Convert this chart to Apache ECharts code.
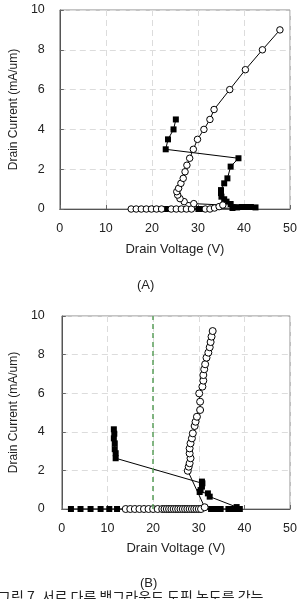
<!DOCTYPE html>
<html>
<head>
<meta charset="utf-8">
<script src="https://cdn.jsdelivr.net/npm/echarts@6/dist/echarts.min.js"></script>
<style>
  html, body { margin: 0; padding: 0; background: #fff; }
  #chart { width: 300px; height: 599px; }
</style>
</head>
<body>
<div id="chart"></div>
<script>
// chart (A)
var aCircleV = [15.5, 16.6, 17.7, 18.8, 19.9, 21.0, 22.1, 24.2, 25.3, 26.4, 27.5, 28.6, 31.6, 32.6, 33.6, 34.6, 35.4,
  29.1, 27.0, 26.1, 25.6, 25.4, 25.8, 26.3, 26.8, 27.2, 27.6, 28.2, 29.0, 29.9, 31.3, 32.6, 33.5, 36.9, 40.3, 44.0, 47.8];
var aCircleI = [0, 0, 0, 0, 0, 0, 0, 0, 0, 0, 0, 0, 0, 0, 0.05, 0.12, 0.2,
  0.27, 0.37, 0.52, 0.7, 0.87, 1.04, 1.29, 1.54, 1.87, 2.2, 2.55, 3.0, 3.5, 4.0, 4.5, 5.0, 6.0, 7.0, 8.0, 9.0];
var aSquareV = [22.9, 23.4, 30.1, 30.8, 37.5, 38.5, 39.5, 40.5, 41.5, 42.5,
  37.1, 36.2, 35.7, 35.1, 35.0, 35.0, 35.7, 36.4, 37.1, 38.8,
  23.0, 23.5, 24.7, 25.2];
var aSquareI = [0, 0, 0, 0, 0.05, 0.08, 0.1, 0.1, 0.1, 0.08,
  0.25, 0.37, 0.49, 0.62, 0.8, 0.95, 1.29, 1.54, 2.13, 2.55,
  3.0, 3.5, 4.0, 4.5];

// chart (B)
var bCircleV = [14, 15, 16, 17, 18, 19, 20, 21, 22, 22.5, 23, 23.5, 24, 24.5, 25, 25.5, 26, 26.5, 27, 27.5, 28, 28.5, 29, 29.5, 30, 30.5, 31.3,
  27.6, 27.8, 28.0, 28.2, 28.0, 28.0, 28.2, 28.5, 28.7, 29.1, 29.3, 29.6, 30.3, 30.3, 30.1, 30.8, 31.0, 31.0, 31.2, 31.4, 31.7, 32.1, 32.4, 32.6, 32.8, 33.05];
var bCircleI = [0, 0, 0, 0, 0, 0, 0, 0, 0, 0, 0, 0, 0, 0, 0, 0, 0, 0, 0, 0, 0, 0, 0, 0, 0, 0, 0.09,
  1.98, 2.19, 2.37, 2.63, 2.88, 3.14, 3.4, 3.66, 3.92, 4.3, 4.52, 4.78, 5.13, 5.56, 5.99, 6.34, 6.65, 6.94, 7.24, 7.5, 7.84, 8.1, 8.38, 8.65, 8.93, 9.22];
var bSquareV = [2.0, 4.1, 6.3, 8.5, 10.4, 12.1, 32.7, 33.8, 34.8, 36.5, 37.3, 38.2, 39.0, 38.3,
  32.4, 32.0, 30.2, 30.4, 30.7, 30.8, 30.7,
  11.8, 11.8, 11.6, 11.6, 11.4, 11.5, 11.4];
var bSquareI = [0, 0, 0, 0, 0, 0, 0, 0, 0, 0, 0, 0, 0, 0.1,
  0.64, 0.81, 0.88, 0.98, 1.16, 1.33, 1.42,
  2.63, 2.89, 3.1, 3.4, 3.66, 3.9, 4.13];
var bGuideV = 20;

var xTicks = { min: 0, max: 50, interval: 10 };
var yTicks = { min: 0, max: 10, interval: 2 };

function zip(xs, ys) {
  return xs.map(function (x, i) { return [x, ys[i]]; });
}

var font = "'Liberation Sans', Arial, sans-serif";

function xAxis(gridIndex, margin, nameGap) {
  return {
    gridIndex: gridIndex,
    type: "value",
    min: xTicks.min,
    max: xTicks.max,
    interval: xTicks.interval,
    name: "Drain Voltage (V)",
    nameLocation: "middle",
    nameGap: nameGap,
    nameTextStyle: { color: "#222", fontSize: 13, fontFamily: font },
    axisLine: { lineStyle: { color: "#555", width: 1 } },
    axisTick: { inside: true, length: 4, lineStyle: { color: "#666" } },
    axisLabel: { color: "#222", fontSize: 12.5, fontFamily: font, margin: margin },
    splitLine: { show: true, lineStyle: { color: "#dcdcdc", type: [6, 4], width: 1 } }
  };
}

function yAxis(gridIndex, margin, nameGap) {
  return {
    gridIndex: gridIndex,
    type: "value",
    min: yTicks.min,
    max: yTicks.max,
    interval: yTicks.interval,
    name: "Drain Current (mA/um)",
    nameLocation: "middle",
    nameGap: nameGap,
    nameTextStyle: { color: "#222", fontSize: 12, fontFamily: font },
    axisLine: { show: true, lineStyle: { color: "#555", width: 1 } },
    axisTick: { show: true, inside: true, length: 4, lineStyle: { color: "#666" } },
    axisLabel: { color: "#222", fontSize: 12.5, fontFamily: font, margin: margin },
    splitLine: { show: true, lineStyle: { color: "#dcdcdc", type: [6, 4], width: 1 } }
  };
}

function circles(idx, data, size) {
  return {
    type: "line",
    xAxisIndex: idx,
    yAxisIndex: idx,
    data: data,
    symbol: "circle",
    symbolSize: size,
    showAllSymbol: true,
    lineStyle: { color: "#000", width: 1 },
    itemStyle: { color: "#fff", borderColor: "#000", borderWidth: 1 },
    z: 3
  };
}

function squares(idx, data) {
  return {
    type: "line",
    xAxisIndex: idx,
    yAxisIndex: idx,
    data: data,
    symbol: "rect",
    symbolSize: 6,
    showAllSymbol: true,
    lineStyle: { color: "#000", width: 1 },
    itemStyle: { color: "#000", borderColor: "#000", borderWidth: 0 },
    z: 2
  };
}

var chart = echarts.init(document.getElementById("chart"), null, { renderer: "canvas" });

var bSq = squares(1, zip(bSquareV, bSquareI));
bSq.markLine = {
  silent: true,
  symbol: "none",
  label: { show: false },
  lineStyle: { color: "#5a9e5a", type: [5, 4], width: 1.5 },
  data: [{ xAxis: bGuideV }]
};

chart.setOption({
  animation: false,
  backgroundColor: "#fff",
  grid: [
    { left: 55, top: 10, width: 236, height: 199, show: true, borderColor: "#888", borderWidth: 1 },
    { left: 52, top: 316, width: 239, height: 193, show: true, borderColor: "#888", borderWidth: 1 }
  ],
  xAxis: [xAxis(0, 13, 34), xAxis(1, 13, 33)],
  yAxis: [yAxis(0, 15, 38), yAxis(1, 17, 39)],
  series: [
    squares(0, zip(aSquareV, aSquareI)),
    circles(0, zip(aCircleV, aCircleI), 6.5),
    bSq,
    circles(1, zip(bCircleV, bCircleI), 7)
  ],
  graphic: [
    { type: "text", left: 137, top: 279, style: { text: "(A)", fill: "#222", font: "13px " + font } },
    { type: "text", left: 140, top: 577, style: { text: "(B)", fill: "#222", font: "13px " + font } },
    { type: "text", left: -2, top: 590, style: { text: "그림 7. 서로 다른 백그라운드 도핑 농도를 갖는", fill: "#222", font: "14px 'Noto Sans CJK KR', sans-serif" } }
  ]
});
</script>
</body>
</html>
